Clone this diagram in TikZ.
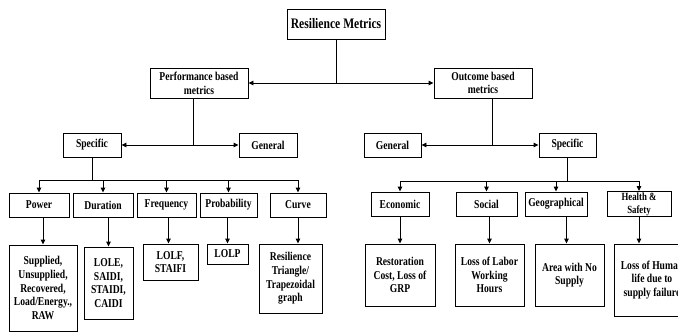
\documentclass[tikz,border=0pt]{standalone}
\usepackage{fontspec}
\setmainfont{Liberation Serif}[FakeStretch=0.8]
\usetikzlibrary{arrows.meta}

\begin{document}
\begin{tikzpicture}[
    x=1pt, y=-1pt,
    box/.style={rectangle, draw, line width=0.9pt, align=center, inner sep=1pt,
        font=\bfseries\fontsize{12}{13.7}\selectfont},
    arr/.style={line width=0.9pt, -{Triangle[length=5pt,width=4.5pt]}},
    ln/.style={line width=0.9pt}
]
    \useasboundingbox (0,0) rectangle (678,332);

    \node[box, minimum width=98pt, minimum height=30pt,
        font=\bfseries\fontsize{14.5}{16}\selectfont] (rm) at (336,24) {Resilience Metrics};

    \node[box, minimum width=98pt, minimum height=30pt] (perf) at (199,83) {Performance based\\metrics};
    \node[box, minimum width=98pt, minimum height=30pt] (out) at (483,83) {Outcome based\\metrics};

    \draw[arr] (rm.south) |- (perf.east);
    \draw[arr] (rm.south) |- (out.west);

    \node[box, minimum width=58pt, minimum height=24pt] (spl) at (92,145) {Specific};
    \node[box, minimum width=58pt, minimum height=24pt] (genl) at (268,145) {General};
    \node[box, minimum width=57pt, minimum height=24pt] (genr) at (392.5,145) {General};
    \node[box, minimum width=57pt, minimum height=24pt] (spr) at (567.5,145) {Specific};

    \draw[arr] ([xshift=-6pt]perf.south) |- (spl.east);
    \draw[arr] ([xshift=-6pt]perf.south) |- (genl.west);
    \draw[arr] ([xshift=9pt]out.south) |- (genr.east);
    \draw[arr] ([xshift=9pt]out.south) |- (spr.west);

    % performance based, specific
    \node[box, minimum width=60pt, minimum height=24pt] (power) at (39,205) {Power};
    \node[box, minimum width=60pt, minimum height=24pt] (dur) at (103,205) {Duration};
    \node[box, minimum width=59pt, minimum height=24pt] (freq) at (166.5,205) {Frequency};
    \node[box, minimum width=57pt, minimum height=24pt] (prob) at (228.5,205) {Probability};
    \node[box, minimum width=56pt, minimum height=24pt] (curve) at (298,205) {Curve};

    \coordinate (busl) at (92,180);
    \draw[ln] (spl.south) -- (busl);
    \foreach \n in {power,dur,freq,prob,curve}
        \draw[arr] (busl) -| (\n.north);

    \node[box, minimum width=68pt, minimum height=86pt] (pwrd) at (43,288)
        {Supplied,\\Unsupplied,\\Recovered,\\Load/Energy.,\\RAW};
    \node[box, minimum width=49pt, minimum height=72pt] (durd) at (108.5,283)
        {LOLE,\\SAIDI,\\STAIDI,\\CAIDI};
    \node[box, minimum width=55pt, minimum height=36pt] (freqd) at (170.5,262) {LOLF,\\STAIFI};
    \node[box, minimum width=41pt, minimum height=20pt] (probd) at (227.5,254) {LOLP};
    \node[box, minimum width=63pt, minimum height=69pt] (curved) at (290.5,278.5)
        {Resilience\\Triangle/\\Trapezoidal\\graph};

    \draw[arr] (pwrd.north |- power.south) -- (pwrd.north);
    \draw[arr] (durd.north |- dur.south) -- (durd.north);
    \draw[arr] ([xshift=2pt]freq.south) -- ([xshift=2pt]freq.south |- freqd.north);
    \draw[arr] (probd.north |- prob.south) -- (probd.north);
    \draw[arr] (curve.south) -- (curve.south |- curved.north);

    % outcome based, specific
    \node[box, minimum width=58pt, minimum height=24pt] (econ) at (400,204) {Economic};
    \node[box, minimum width=61pt, minimum height=24pt] (soc) at (486.5,204) {Social};
    \node[box, minimum width=62pt, minimum height=24pt] (geo) at (556,204) {Geographical};
    \node[box, minimum width=64pt, minimum height=24pt,
        font=\bfseries\fontsize{11}{13}\selectfont] (hs) at (639,204) {Health \&\\Safety};

    \coordinate (busr) at (567.5,181);
    \draw[ln] (spr.south) -- (busr);
    \foreach \n in {econ,soc,geo,hs}
        \draw[arr] (busr) -| (\n.north);

    \node[box, minimum width=70pt, minimum height=62pt] (econd) at (400,275)
        {Restoration\\Cost, Loss of\\GRP};
    \node[box, minimum width=69pt, minimum height=62pt] (socd) at (489.5,275)
        {Loss of Labor\\Working\\Hours};
    \node[box, minimum width=69pt, minimum height=62pt] (geod) at (569.5,275)
        {Area with No\\Supply};
    \node[box, minimum width=76pt, minimum height=72pt] (hsd) at (652,280)
        {Loss of Human\\life due to\\supply failure};

    \draw[arr] (econd.north |- econ.south) -- (econd.north);
    \draw[arr] (socd.north |- soc.south) -- (socd.north);
    \draw[arr] ([xshift=-3pt]geod.north |- geo.south) -- ([xshift=-3pt]geod.north);
    \draw[arr] (hs.south) -- (hs.south |- hsd.north);
\end{tikzpicture}
\end{document}
